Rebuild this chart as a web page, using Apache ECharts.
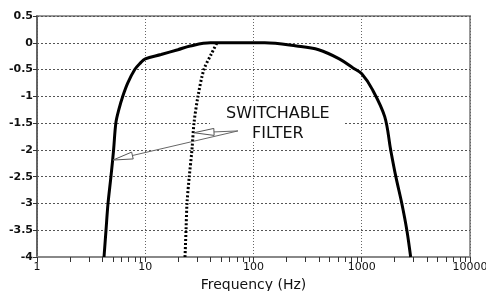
<!DOCTYPE html>
<html>
<head>
<meta charset="utf-8">
<script src="https://cdn.jsdelivr.net/npm/echarts@6/dist/echarts.min.js"></script>
<style>
  html, body { margin: 0; padding: 0; background: #fff; }
  #chart { width: 486px; height: 291px; }
</style>
</head>
<body>
<div id="chart"></div>
<script>
// response of the full band (solid line)
const mainFreq = [4.16, 4.34, 4.53, 4.82, 5.1, 5.35, 5.7, 6.2, 6.9, 8.0, 9.0, 10, 14, 20, 26, 40, 127, 250, 400, 620, 830, 1000, 1260, 1630, 1850, 2065, 2345, 2610, 2830]
const mainGain = [-4, -3.5, -3, -2.5, -2, -1.5, -1.25, -1, -0.75, -0.5, -0.38, -0.3, -0.22, -0.13, -0.06, 0, 0, -0.06, -0.13, -0.3, -0.47, -0.58, -0.88, -1.38, -2, -2.5, -3, -3.5, -4]
// switchable high-pass filter (dotted line)
const filterFreq = [23.3, 23.8, 24.3, 25.5, 27, 28.2, 30.7, 34.8, 41, 46]
const filterGain = [-4, -3.5, -3, -2.5, -2, -1.5, -1, -0.5, -0.2, 0]

const xTicks = [1, 10, 100, 1000, 10000]
const minorTicks = [2, 3, 4, 5, 6, 7, 8, 9, 20, 30, 40, 50, 60, 70, 80, 90, 200, 300, 400, 500, 600, 700, 800, 900, 2000, 3000, 4000, 5000, 6000, 7000, 8000, 9000]

// annotation, in data coordinates
const noteLines = ['SWITCHABLE', 'FILTER']
const notePos = [[168, -1.33], [168, -1.70]]
const noteBox = [[39.6, -1.12], [698, -1.83]]
const arrowTail = [71.8, -1.646]
const arrowTips = [[28.2, -1.68], [5.03, -2.19]]

const chart = echarts.init(document.getElementById('chart'))

const font = 'DejaVu Sans'
const pair = (xs, ys) => xs.map((x, i) => [x, ys[i]])

const option = {
  animation: false,
  grid: {
    left: 37,
    right: 16,
    top: 16,
    bottom: 34,
    outerBoundsMode: 'none',
    show: true,
    borderColor: '#999',
    borderWidth: 2
  },
  xAxis: {
    type: 'log',
    logBase: 10,
    min: 1,
    max: 10000,
    name: 'Frequency (Hz)',
    nameLocation: 'middle',
    nameGap: 19,
    nameTextStyle: { fontFamily: font, fontSize: 14, color: '#111' },
    axisLine: { show: true, onZero: false, lineStyle: { color: '#888', width: 2 } },
    axisTick: { show: true, length: 5, lineStyle: { color: '#333' } },
    axisLabel: {
      fontFamily: font,
      fontSize: 11,
      color: '#111',
      margin: 5,
      formatter: (v) => (xTicks.indexOf(v) >= 0 ? String(v) : '')
    },
    splitLine: { show: true, lineStyle: { color: '#666', type: [1, 2], width: 1 } }
  },
  yAxis: {
    type: 'value',
    min: -4,
    max: 0.5,
    interval: 0.5,
    axisLine: { show: true, lineStyle: { color: '#555', width: 1.5 } },
    axisTick: { show: true, length: 4, lineStyle: { color: '#333' } },
    axisLabel: {
      fontFamily: font,
      fontSize: 11,
      fontWeight: 'bold',
      color: '#111',
      margin: 4
    },
    splitLine: { show: true, lineStyle: { color: '#555', type: [2, 2], width: 1 } }
  },
  series: [
    {
      name: 'full band',
      type: 'line',
      data: pair(mainFreq, mainGain),
      smooth: 0.35,
      showSymbol: false,
      lineStyle: { color: '#000', width: 3 },
      z: 3
    },
    {
      name: 'switchable filter',
      type: 'line',
      data: pair(filterFreq, filterGain),
      smooth: 0.3,
      showSymbol: false,
      lineStyle: { color: '#000', width: 3, type: [2, 2] },
      z: 4
    }
  ]
}

chart.setOption(option)

// minor log ticks, arrows and label, placed from data coordinates
const px = (p) => chart.convertToPixel({ xAxisIndex: 0, yAxisIndex: 0 }, p)

const graphics = []
minorTicks.forEach((v) => {
  const p = px([v, -4])
  const x = Math.round(p[0]) + 0.5
  graphics.push({
    type: 'line',
    shape: { x1: x, y1: p[1], x2: x, y2: p[1] + 5 },
    style: { stroke: '#333', lineWidth: 1 },
    z: 10
  })
})
const b0 = px(noteBox[0])
const b1 = px(noteBox[1])
graphics.push({
  type: 'rect',
  shape: { x: b0[0], y: b0[1], width: b1[0] - b0[0], height: b1[1] - b0[1] },
  style: { fill: '#fff' },
  z: 5
})
noteLines.forEach((t, i) => {
  const p = px(notePos[i])
  graphics.push({
    type: 'text',
    x: p[0],
    y: p[1],
    style: {
      text: t,
      fontFamily: font,
      fontSize: 16,
      fill: '#111',
      align: 'center',
      verticalAlign: 'middle'
    },
    z: 6
  })
})
const tail = px(arrowTail)
arrowTips.forEach((tip) => {
  const t = px(tip)
  const dx = tail[0] - t[0]
  const dy = tail[1] - t[1]
  const len = Math.sqrt(dx * dx + dy * dy)
  const ux = dx / len
  const uy = dy / len
  const headLen = 20
  const headW = 3.5
  const bx = t[0] + ux * headLen
  const by = t[1] + uy * headLen
  graphics.push({
    type: 'line',
    shape: { x1: bx, y1: by, x2: tail[0], y2: tail[1] },
    style: { stroke: '#666', lineWidth: 1 },
    z: 7
  })
  graphics.push({
    type: 'polygon',
    shape: {
      points: [
        [t[0], t[1]],
        [bx - uy * headW, by + ux * headW],
        [bx + uy * headW, by - ux * headW]
      ]
    },
    style: { fill: '#fff', stroke: '#555', lineWidth: 1 },
    z: 7
  })
})
chart.setOption({ graphic: graphics })
</script>
</body>
</html>
